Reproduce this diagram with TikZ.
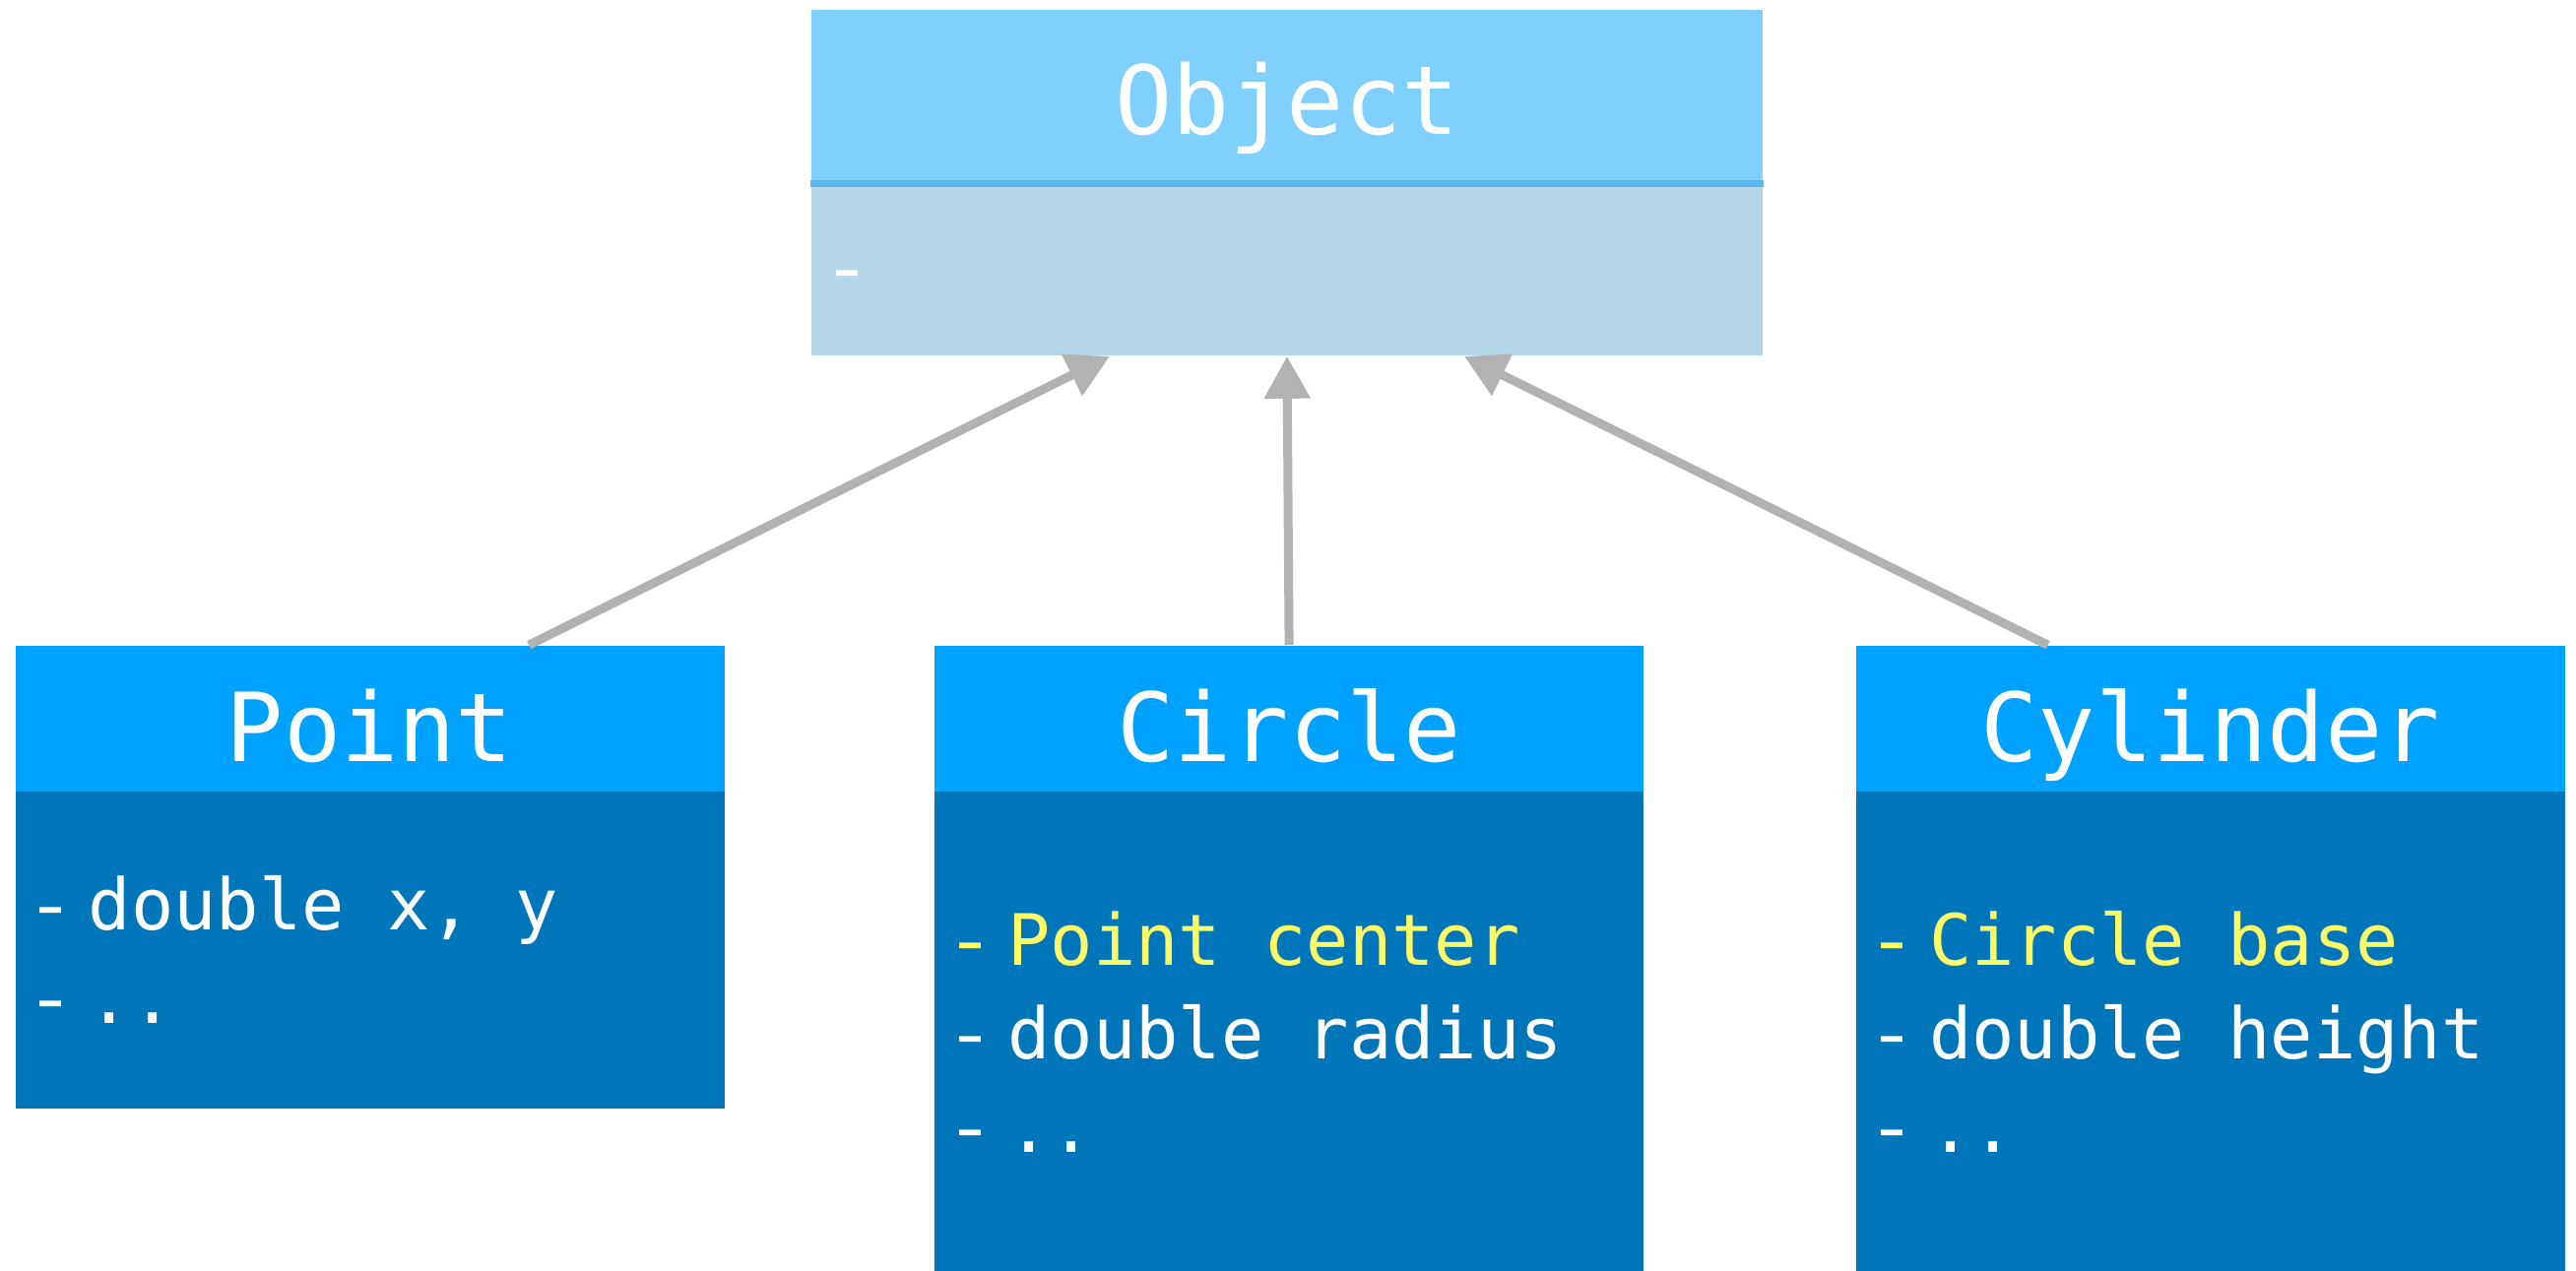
\documentclass[tikz,border=0pt]{standalone}
\usepackage{fontspec}
\setmonofont{DejaVu Sans Mono}
\usepackage{xcolor}
\usepackage{tikz}
\usetikzlibrary{positioning,arrows.meta}
\definecolor{objhead}{RGB}{128,208,255}
\definecolor{objline}{RGB}{91,181,234}
\definecolor{objbody}{RGB}{180,215,234}
\definecolor{clshead}{RGB}{0,162,255}
\definecolor{clsbody}{RGB}{0,118,186}
\definecolor{fieldyellow}{RGB}{255,251,103}
\definecolor{linkgray}{RGB}{178,178,178}
% one field line: bullet, then the member (full mono spaces)
\newcommand{\fld}[1]{\makebox[16pt][l]{\scalebox{1.2}[1]{-}}{\spaceskip=0.602em\xspaceskip=0.602em #1}}
\newcommand{\monofont}[1]{\ttfamily\fontsize{#1}{23.75pt}\selectfont}

\begin{document}
\begin{tikzpicture}[
  headbox/.style={rectangle, fill=clshead, text=white, minimum width=180pt, minimum height=37pt, inner sep=0pt, text height=21.5pt, text depth=0pt, font=\monofont{24.2pt}},
  bodybox/.style={rectangle, fill=clsbody, text=white, minimum width=180pt, inner xsep=2.6pt, inner ysep=0pt, text width=174.8pt, align=left, font=\monofont{18pt}},
  inherit/.style={-{Triangle[length=10.75pt, width=11.25pt]}, line width=2.25pt, draw=linkgray}
]
  \useasboundingbox (0,0) rectangle (654pt,-322.5pt);

  % base class
  \node[headbox, fill=objhead, minimum width=241.5pt, minimum height=43.875pt, text height=19.5pt] (objhead) at (326.75pt,-24.44pt) {Object};
  \node[bodybox, fill=objbody, minimum width=241.5pt, minimum height=43.875pt, text width=236.3pt, text height=12pt, text depth=0pt, below=-0.4pt of objhead] (objbody) {\fld{}};
  \draw[line width=1.75pt, objline] (objhead.south west) -- (objhead.south east);

  % derived classes
  \node[headbox] (pointhead) at (93.875pt,-182.5pt) {Point};
  \node[bodybox, minimum height=80.4pt, below=-0.4pt of pointhead] (pointbody) {\fld{double x, y}\\\fld{..}};

  \node[headbox, right=53pt of pointhead] (circlehead) {Circle};
  \node[bodybox, minimum height=121.9pt, below=-0.4pt of circlehead] (circlebody) {\textcolor{fieldyellow}{\fld{Point center}}\\\fld{double radius}\\\fld{..}};

  \node[headbox, right=53.5pt of circlehead] (cylhead) {Cylinder};
  \node[bodybox, minimum height=121.9pt, below=-0.4pt of cylhead] (cylbody) {\textcolor{fieldyellow}{\fld{Circle base}}\\\fld{double height}\\\fld{..}};

  \draw[inherit] ([xshift=40.4pt]pointhead.north) -- ([xshift=-45pt]objbody.south);
  \draw[inherit] (circlehead.north) -- (objbody.south);
  \draw[inherit] ([xshift=-41.25pt]cylhead.north) -- ([xshift=45pt]objbody.south);
\end{tikzpicture}
\end{document}
